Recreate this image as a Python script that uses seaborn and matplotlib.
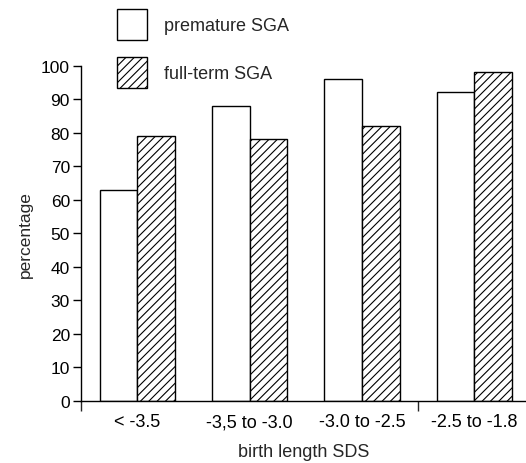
import matplotlib

matplotlib.use("Agg")

import matplotlib.patches as mpatches
import matplotlib.pyplot as plt
import pandas as pd
import seaborn as sns


categories = [
    "< -3.5",
    "-3,5 to -3.0",
    "-3.0 to -2.5",
    "-2.5 to -1.8",
]

premature_sga = [63, 88, 96, 92]

full_term_sga = [79, 78, 82, 98]

series_names = [
    "premature SGA",
    "full-term SGA",
]

y_ticks = list(range(0, 101, 10))


sns.set_style("ticks")

plt.rcParams["font.family"] = ["Liberation Sans", "DejaVu Sans"]
plt.rcParams["hatch.linewidth"] = 0.8
plt.rcParams["hatch.color"] = "black"

data = pd.DataFrame(
    {
        "category": categories * 2,
        "value": premature_sga + full_term_sga,
        "series": [series_names[0]] * len(categories)
        + [series_names[1]] * len(categories),
    }
)

figure = plt.figure(
    figsize=(5.26, 4.64),
    dpi=100,
)

axis = figure.add_axes([0.154, 0.1343, 0.846, 0.722])

sns.barplot(
    data=data,
    x="category",
    y="value",
    hue="series",
    order=categories,
    hue_order=series_names,
    palette=["white", "white"],
    edgecolor="black",
    linewidth=1,
    width=0.67,
    gap=0,
    legend=False,
    ax=axis,
)

for patch in axis.containers[1]:
    patch.set_hatch("////")

axis.set_xlim(-0.5, 3.46)
axis.set_ylim(0, 100)
axis.set_yticks(y_ticks)

sns.despine(ax=axis)

axis.tick_params(
    axis="y",
    direction="out",
    length=6,
    width=1,
    pad=2,
    labelsize=12.5,
    colors="black",
)

axis.tick_params(
    axis="x",
    which="major",
    length=0,
    pad=9,
    labelsize=13,
    colors="black",
)

axis.set_xticks([-0.5, 2.5], minor=True)

axis.tick_params(
    axis="x",
    which="minor",
    direction="out",
    length=7,
    width=1,
)

for spine in axis.spines.values():
    spine.set_linewidth(1)
    spine.set_color("black")

axis.set_xlabel(
    "birth length SDS",
    fontsize=13,
)
axis.xaxis.set_label_coords(0.5, -0.125)

axis.set_ylabel(
    "percentage",
    fontsize=12.5,
    labelpad=6,
)

legend_handles = [
    mpatches.Patch(
        facecolor="white",
        edgecolor="black",
        linewidth=1,
        label=series_names[0],
    ),
    mpatches.Patch(
        facecolor="white",
        edgecolor="black",
        linewidth=1,
        hatch="////",
        label=series_names[1],
    ),
]

figure.legend(
    handles=legend_handles,
    loc="upper left",
    bbox_to_anchor=(117 / 526, 1 - 10 / 464),
    bbox_transform=figure.transFigure,
    frameon=False,
    fontsize=13,
    handlelength=1.65,
    handleheight=2.25,
    handletextpad=0.95,
    labelspacing=0.95,
    borderpad=0,
    borderaxespad=0,
)

figure.savefig("out.png", dpi=100)
